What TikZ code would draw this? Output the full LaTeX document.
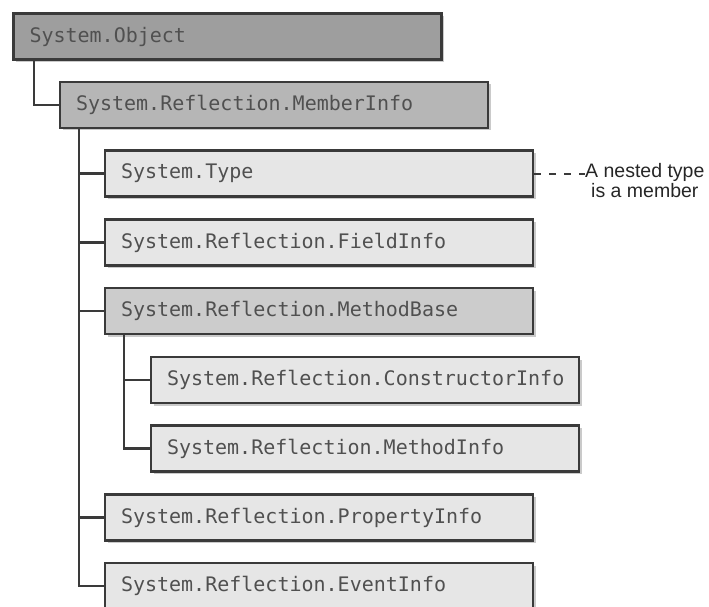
\documentclass[tikz,border=0pt]{standalone}
\usepackage{fontspec}
\usepackage{xcolor}
\usepackage{tikz}
\usetikzlibrary{shadows}

\newfontfamily\boxfont{DejaVu Sans Mono}
\newfontfamily\notefont{Liberation Sans}

\definecolor{rootgray}{RGB}{158,158,158}
\definecolor{midgray}{RGB}{182,182,182}
\definecolor{basegray}{RGB}{204,204,204}
\definecolor{leafgray}{RGB}{230,230,230}
\definecolor{edgegray}{RGB}{58,58,58}
\definecolor{textgray}{RGB}{80,80,80}

\begin{document}
\begin{tikzpicture}[
    x=1pt, y=-1pt,
    every node/.style={font=\boxfont\fontsize{20}{22}\selectfont, text=textgray},
    cls/.style={draw=edgegray, line width=2.6pt, minimum height=46pt,
        text width=396pt, inner xsep=16pt, align=left,
        drop shadow={shadow xshift=2.5pt, shadow yshift=-2.5pt, fill=gray!70, opacity=0.6}},
    link/.style={draw=edgegray, line width=2.4pt},
]

\useasboundingbox (0,0) rectangle (709,607);

\node[cls, fill=rootgray] (obj) at (227.5, 36.5) {System.Object};
\node[cls, fill=midgray] (member) at (274, 105) {System.Reflection.MemberInfo};
\node[cls, fill=leafgray] (type) at (319, 173.5) {System.Type};
\node[cls, fill=leafgray] (field) at (319, 242.5) {System.Reflection.FieldInfo};
\node[cls, fill=basegray] (mbase) at (319, 311) {System.Reflection.MethodBase};
\node[cls, fill=leafgray] (ctor) at (365, 380) {System.Reflection.ConstructorInfo};
\node[cls, fill=leafgray] (minfo) at (365, 448.5) {System.Reflection.MethodInfo};
\node[cls, fill=leafgray] (prop) at (319, 517.5) {System.Reflection.PropertyInfo};
\node[cls, fill=leafgray] (event) at (319, 586) {System.Reflection.EventInfo};

\node[font=\notefont\fontsize{19.5}{20}\selectfont, text=black!85, align=center,
    inner sep=0pt, anchor=west] (note) at (585, 181) {A nested type\\is a member};

\draw[link] ([xshift=22pt]obj.south west) |- (member.west);
\foreach \kid in {type, field, mbase, prop, event}
    \draw[link] ([xshift=20pt]member.south west) |- (\kid.west);
\foreach \kid in {ctor, minfo}
    \draw[link] ([xshift=20pt]mbase.south west) |- (\kid.west);

\draw[edgegray, line width=2pt, dash pattern=on 7pt off 8pt]
    (type.east) -- (type.east -| note.west);

\end{tikzpicture}
\end{document}
